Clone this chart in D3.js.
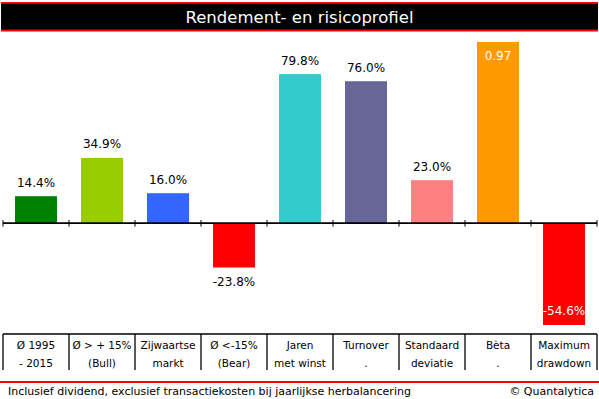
<!DOCTYPE html>
<html><head><meta charset="utf-8">
<script src="https://cdn.jsdelivr.net/npm/d3@7"></script>
<style>body{margin:0;background:#fff}svg{display:block}</style>
</head><body>
<svg id="c" width="599" height="399"></svg>
<script>
const title = "Rendement- en risicoprofiel";
const categories = [["Ø 1995","- 2015"],["Ø > + 15%","(Bull)"],["Zijwaartse","markt"],["Ø <-15%","(Bear)"],["Jaren","met winst"],["Turnover","."],["Standaard","deviatie"],["Bèta","."],["Maximum","drawdown"]];
const values = [14.4, 34.9, 16.0, -23.8, 79.8, 76.0, 23.0, 0.97, -54.6];
const units = ["%","%","%","%","%","%","%","","%"];
const colors = ["#008000","#99cc00","#3366ff","#ff0000","#33cccc","#666699","#ff8080","#ff9900","#ff0000"];
const footer = "Inclusief dividend, exclusief transactiekosten bij jaarlijkse herbalancering";
const credit = "© Quantalytica";

const svg = d3.select("#c");
const W = 599;
const font = "'DejaVu Sans', Verdana, sans-serif";

// title bar
svg.append("rect").attr("x",1).attr("y",2).attr("width",W-2).attr("height",29).attr("fill","#000");
svg.append("rect").attr("x",1).attr("y",2).attr("width",W-2).attr("height",1.8).attr("fill","#ff0000");
svg.append("rect").attr("x",1).attr("y",29.5).attr("width",W-2).attr("height",2).attr("fill","#ff0000");
svg.append("text").attr("x",W/2).attr("y",23).attr("text-anchor","middle")
  .attr("fill","#fff").attr("font-family",font).attr("font-size",16.5).text(title);

const plotVals = values.map((v,i)=> units[i]==="%" ? v : v*100);
const idx = d3.range(values.length);
const x = d3.scaleBand().domain(idx).range([3,597]).paddingInner(0.364).paddingOuter(0.182);
const y = d3.scaleLinear().domain([d3.min(plotVals), d3.max(plotVals)]).range([325,42]);
const y0 = y(0);

svg.append("g").selectAll("rect").data(idx).join("rect")
  .attr("x",i=>x(i)).attr("width",x.bandwidth())
  .attr("y",i=>y(Math.max(0,plotVals[i])))
  .attr("height",i=>Math.abs(y(plotVals[i])-y0))
  .attr("fill",i=>colors[i]);

// axis
const step = x.step();
const bounds = d3.range(values.length+1).map(k=>x.range()[0]+k*step);
svg.append("line").attr("x1",bounds[0]).attr("x2",bounds[bounds.length-1]).attr("y1",y0).attr("y2",y0)
  .attr("stroke","#000").attr("stroke-width",1.6);
svg.append("g").selectAll("line").data(bounds).join("line")
  .attr("x1",d=>d).attr("x2",d=>d).attr("y1",y0-3).attr("y2",y0+3.5)
  .attr("stroke","#000").attr("stroke-width",1);

// value labels
const vmax = d3.max(plotVals), vmin = d3.min(plotVals);
svg.append("g").selectAll("text").data(idx).join("text")
  .attr("x",i=>x(i)+x.bandwidth()/2)
  .attr("y",i=>{
    const v=plotVals[i];
    if (v===vmax) return y(v)+18;
    if (v===vmin) return y(v)-10;
    return v>=0 ? y(v)-9.5 : y(v)+18;
  })
  .attr("text-anchor","middle").attr("font-family",font).attr("font-size",12)
  .attr("fill",i=> (plotVals[i]===vmax||plotVals[i]===vmin) ? "#fff" : "#000")
  .text(i=> units[i]==="%" ? values[i].toFixed(1)+"%" : values[i].toFixed(2));

// table
const tTop = 334, tBot = 370;
svg.append("line").attr("x1",bounds[0]).attr("x2",bounds[bounds.length-1]).attr("y1",tTop).attr("y2",tTop)
  .attr("stroke","#000").attr("stroke-width",1.3);
svg.append("g").selectAll("line").data(bounds).join("line")
  .attr("x1",d=>d).attr("x2",d=>d).attr("y1",tTop).attr("y2",tBot)
  .attr("stroke","#000").attr("stroke-width",1.3);
const cells = svg.append("g").selectAll("text").data(idx).join("text")
  .attr("text-anchor","middle").attr("font-family",font).attr("font-size",10.5).attr("fill","#000");
cells.append("tspan").attr("x",i=>x(i)+x.bandwidth()/2).attr("y",349).text(i=>categories[i][0]);
cells.append("tspan").attr("x",i=>x(i)+x.bandwidth()/2).attr("y",366.5).text(i=>categories[i][1]);

// footer
svg.append("rect").attr("x",0).attr("y",381).attr("width",W).attr("height",2).attr("fill","#ff0000");
svg.append("text").attr("x",8).attr("y",395).attr("font-family",font).attr("font-size",11).attr("fill","#000").text(footer);
svg.append("text").attr("x",594).attr("y",395).attr("text-anchor","end").attr("font-family",font).attr("font-size",11).attr("fill","#000").text(credit);
</script>
</body></html>
